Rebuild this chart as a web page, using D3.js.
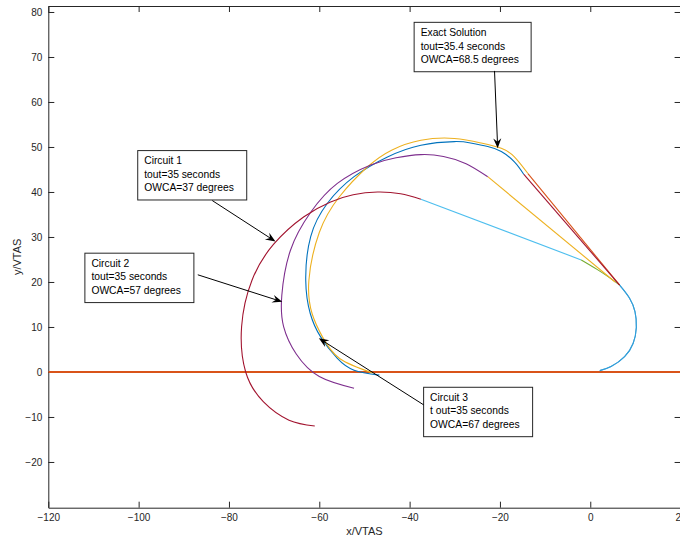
<!DOCTYPE html>
<html>
  <head>
    <meta charset="utf-8">
    <title>Trajectories</title>
    <script src="https://d3js.org/d3.v7.min.js"></script>
    <style>
      body { margin: 0; background: #fff; }
      svg { display: block; font-family: "Liberation Sans", Arial, sans-serif; }
      .tick text { fill: #262626; font-size: 10px; }
      .axisLabel { fill: #262626; font-size: 11px; }
      .note text { fill: #000; font-size: 10.3px; }
      .curve { fill: none; stroke-width: 1.1; }
    </style>
  </head>
  <body>
    <svg id="chart" width="680" height="539"></svg>
    <script>
      // ticks
      const xTicks = [-120, -100, -80, -60, -40, -20, 0, 20];
      const yTicks = [-20, -10, 0, 10, 20, 30, 40, 50, 60, 70, 80];
      // common first turn, up to the point where the straight legs start
      const firstTurn = [[2.1, 0.3], [4.6, 1.2], [7.6, 3.4], [9.5, 6.4], [10.2, 9.9], [9.9, 13.4], [8.7, 16.4], [6.5, 19.3]];
      // exact solution
      const exactStraight = [[6.5, 19.3], [-14.7, 43.9]];
      const exactTurn = [[-14.7, 43.9], [-16.8, 46.7], [-19.7, 49.0], [-22.7, 50.1], [-26.5, 50.9], [-30.1, 51.2], [-37.5, 50.4],
        [-44.9, 47.8], [-52.3, 43.4], [-58.2, 37.5], [-61.9, 30.1], [-63.0, 20.4], [-62.0, 13.0], [-59.7, 7.8], [-56.0, 3.0], [-52.3, 0.4], [-46.7, -0.7]];
      // circuit 3
      const c3Straight = [[6.5, 19.3], [-13.8, 44.1]];
      const c3Turn = [[-13.8, 44.1], [-16.8, 47.8], [-19.7, 49.7], [-24.2, 50.9], [-30.1, 51.9], [-37.5, 51.5],
        [-44.0, 49.3], [-49.3, 45.6], [-55.5, 39.0], [-60.0, 31.0], [-62.3, 20.4], [-61.6, 13.0], [-59.3, 7.8], [-55.5, 3.0], [-48.2, -0.2]];
      // circuit 2
      const c2Straight = [[5.5, 20.0], [-22.7, 43.4]];
      const c2Turn = [[-22.7, 43.4], [-27.5, 46.3], [-32.5, 47.9], [-37.5, 48.3], [-43.0, 47.6], [-48.6, 46.0], [-56.0, 41.9], [-61.9, 35.5],
        [-66.4, 27.0], [-68.3, 17.0], [-67.9, 10.1], [-65.1, 4.0], [-60.0, -1.0], [-52.3, -3.6]];
      // circuit 1
      const c1Bend = [[6.5, 19.3], [4.5, 20.8], [1.5, 22.8], [-2.0, 24.9]];
      const c1Straight = [[-2.0, 24.9], [-37.5, 38.4]];
      const c1Turn = [[-37.5, 38.4], [-42.0, 39.6], [-47.1, 40.0], [-52.5, 39.4], [-57.5, 37.8], [-63.4, 34.5], [-70.1, 28.4],
        [-74.9, 20.4], [-77.2, 10.1], [-76.3, 0.0], [-72.4, -6.6], [-66.7, -10.7], [-61.0, -12.0]];
      // annotations: box corner and arrow, in data units
      const noteText = [
        ["Exact Solution", "tout=35.4 seconds", "OWCA=68.5 degrees"],
        ["Circuit 1", "tout=35 seconds", "OWCA=37 degrees"],
        ["Circuit 2", "tout=35 seconds", "OWCA=57 degrees"],
        ["Circuit 3", "t out=35 seconds", "OWCA=67 degrees"]
      ];
      const noteBox = [[-39.0, 77.7], [-100.2, 49.2], [-111.9, 26.4], [-36.9, -3.4]];
      const noteArrow = [
        [[-21.2, 66.9], [-20.5, 49.7]],
        [[-83.7, 38.1], [-69.7, 29.0]],
        [[-86.9, 21.6], [-68.2, 15.6]],
        [[-36.9, -7.3], [-60.1, 7.5]]
      ];

      const svg = d3.select("#chart");
      const mLeft = 48.3, mRight = 680.6, mTop = 6, mBottom = 507.7;
      const x = d3.scaleLinear().domain([-120, 20]).range([mLeft, mRight]);
      const y = d3.scaleLinear().domain([-30.16, 81.33]).range([mBottom, mTop]);

      svg.append("defs").append("clipPath").attr("id", "clip")
        .append("rect").attr("x", mLeft).attr("y", mTop).attr("width", mRight - mLeft).attr("height", mBottom - mTop);

      // axes with inward ticks on all four sides
      const axisColor = "#262626";
      function styleAxis(g) {
        g.select(".domain").attr("stroke", axisColor);
        g.selectAll(".tick line").attr("stroke", axisColor);
      }
      svg.append("g").attr("transform", "translate(0," + mBottom + ")")
        .call(d3.axisBottom(x).tickValues(xTicks).tickSizeInner(-6).tickSizeOuter(0).tickPadding(6))
        .call(styleAxis);
      svg.append("g").attr("transform", "translate(0," + mTop + ")")
        .call(d3.axisTop(x).tickValues(xTicks).tickSizeInner(-6).tickSizeOuter(0).tickFormat(""))
        .call(styleAxis);
      svg.append("g").attr("transform", "translate(" + mLeft + ",0)")
        .call(d3.axisLeft(y).tickValues(yTicks).tickSizeInner(-6).tickSizeOuter(0).tickPadding(6))
        .call(styleAxis);
      svg.append("g").attr("transform", "translate(" + mRight + ",0)")
        .call(d3.axisRight(y).tickValues(yTicks).tickSizeInner(-6).tickSizeOuter(0).tickFormat(""))
        .call(styleAxis);
      svg.selectAll(".tick text").attr("font-family", null).attr("font-size", null);

      svg.append("text").attr("class", "axisLabel")
        .attr("x", (mLeft + mRight) / 2).attr("y", 535).attr("text-anchor", "middle").text("x/VTAS");
      svg.append("text").attr("class", "axisLabel")
        .attr("transform", "translate(21," + ((mTop + mBottom) / 2) + ") rotate(-90)")
        .attr("text-anchor", "middle").text("y/VTAS");

      // curves
      const plot = svg.append("g").attr("clip-path", "url(#clip)");
      const smooth = d3.line().x(d => x(d[0])).y(d => y(d[1])).curve(d3.curveNatural);
      const straight = d3.line().x(d => x(d[0])).y(d => y(d[1]));

      plot.append("line").attr("x1", x(-120)).attr("x2", x(20)).attr("y1", y(0)).attr("y2", y(0))
        .attr("stroke", "#D95319").attr("stroke-width", 2);

      const curves = [
        [firstTurn, "#0072BD", smooth],
        [firstTurn, "#4DBEEE", smooth],
        [exactTurn, "#0072BD", smooth],
        [c3Turn, "#EDB120", smooth],
        [c2Turn, "#7E2F8E", smooth],
        [c1Turn, "#A2142F", smooth],
        [c1Straight, "#4DBEEE", straight],
        [c1Bend, "#77AC30", smooth],
        [c2Straight, "#EDB120", straight],
        [c3Straight, "#D95319", straight],
        [exactStraight, "#A2142F", straight]
      ];
      plot.selectAll(".curve")
        .data(curves)
        .enter().append("path")
          .attr("class", "curve")
          .attr("stroke", d => d[1])
          .attr("stroke-opacity", (d, i) => i == 1 ? 0.6 : 1)
          .attr("d", d => d[2](d[0]));

      // annotations
      const lineGap = 13.6;
      noteText.forEach(function(lines, i) {
        const g = svg.append("g").attr("class", "note");
        const bx = x(noteBox[i][0]), by = y(noteBox[i][1]);
        const rect = g.append("rect").attr("x", bx).attr("y", by)
          .attr("fill", "#fff").attr("stroke", "#262626").attr("stroke-width", 1);
        const txt = g.selectAll("text")
          .data(lines)
          .enter().append("text")
            .attr("x", bx + 6.5)
            .attr("y", (d, j) => by + 13.6 + j * lineGap)
            .text(d => d);
        let w = 0;
        txt.each(function() { w = Math.max(w, this.getComputedTextLength()); });
        rect.attr("width", Math.round(w + 19)).attr("height", 49.4);

        const a = noteArrow[i];
        const x1 = x(a[0][0]), y1 = y(a[0][1]), x2 = x(a[1][0]), y2 = y(a[1][1]);
        const ang = Math.atan2(y2 - y1, x2 - x1);
        const len = 10, half = 4;
        const bxh = x2 - len * Math.cos(ang), byh = y2 - len * Math.sin(ang);
        svg.append("line").attr("x1", x1).attr("y1", y1).attr("x2", x2 - 4 * Math.cos(ang)).attr("y2", y2 - 4 * Math.sin(ang))
          .attr("stroke", "#000").attr("stroke-width", 1);
        const pts = [
          [x2, y2],
          [bxh + half * Math.sin(ang), byh - half * Math.cos(ang)],
          [x2 - 6.5 * Math.cos(ang), y2 - 6.5 * Math.sin(ang)],
          [bxh - half * Math.sin(ang), byh + half * Math.cos(ang)]
        ];
        svg.append("path").attr("d", "M" + pts.map(p => p.join(",")).join("L") + "Z").attr("fill", "#000");
      });
    </script>
  </body>
</html>
